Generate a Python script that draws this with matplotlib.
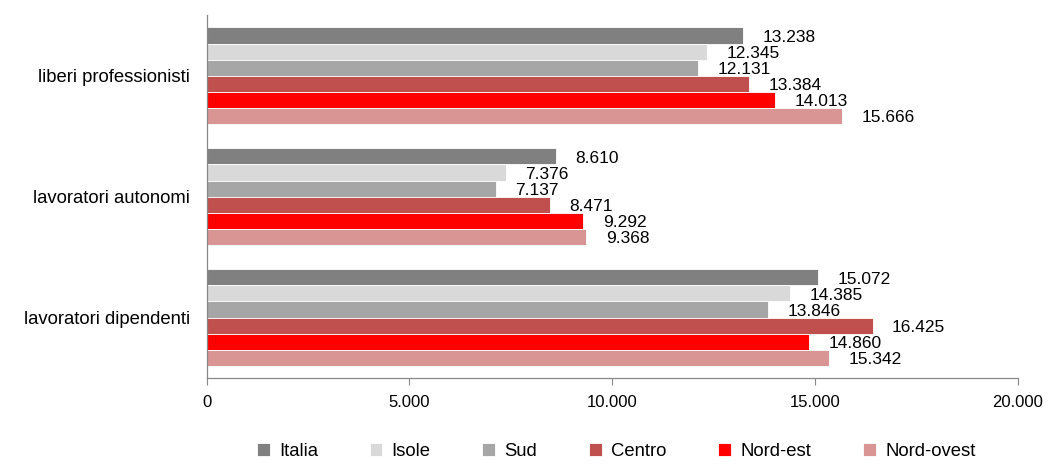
import numpy as np
import matplotlib as mpl
import matplotlib.pyplot as plt

categories = ['liberi professionisti', 'lavoratori autonomi', 'lavoratori dipendenti']
series = ['Italia', 'Isole', 'Sud', 'Centro', 'Nord-est', 'Nord-ovest']
values = {
    'Italia':     [13238, 8610, 15072],
    'Isole':      [12345, 7376, 14385],
    'Sud':        [12131, 7137, 13846],
    'Centro':     [13384, 8471, 16425],
    'Nord-est':   [14013, 9292, 14860],
    'Nord-ovest': [15666, 9368, 15342],
}
colors = ['#808080', '#d9d9d9', '#a6a6a6', '#c0504d', '#ff0000', '#d99594']
x_ticks = [0, 5000, 10000, 15000, 20000]


def fmt_it(v):
    return f'{v:,.0f}'.replace(',', '.')


mpl.rcParams.update({
    'font.family': ['Liberation Sans', 'DejaVu Sans'],
    'font.size': 12,
})

fig = plt.figure(figsize=(10.49, 4.65), dpi=100)
ax = fig.add_axes([0.197, 0.187, 0.773, 0.78])

n = len(series)
h = 0.8 / n
y_cat = np.arange(len(categories))
for i, (name, col) in enumerate(zip(series, colors)):
    y = y_cat - 0.4 + h * (i + 0.5)
    vals = values[name]
    ax.barh(y, vals, height=h, color=col, edgecolor='white', linewidth=0.6, label=name)
    for yy, v in zip(y, vals):
        ax.text(v + 480, yy + 0.015, fmt_it(v), va='center', ha='left', fontsize=12.5)

ax.set_ylim(len(categories) - 0.5, -0.5)
ax.set_yticks(y_cat)
ax.set_yticklabels(categories)
ax.tick_params(axis='y', length=0, pad=12, labelsize=13.3)

ax.set_xlim(0, 20000)
ax.set_xticks(x_ticks)
ax.set_xticklabels([fmt_it(t) for t in x_ticks])
ax.tick_params(axis='x', length=5, width=0.8, color='#888888', pad=7, labelsize=12)

for s in ['top', 'right']:
    ax.spines[s].set_visible(False)
for s in ['left', 'bottom']:
    ax.spines[s].set_color('#888888')
    ax.spines[s].set_linewidth(0.9)

ax.legend(loc='lower center', bbox_to_anchor=(0.505, -0.245), ncol=6, frameon=False,
          handlelength=0.7, handleheight=0.7, handletextpad=0.5, columnspacing=2.8,
          fontsize=13.3, borderaxespad=0)

plt.savefig('out.png', dpi=100)
